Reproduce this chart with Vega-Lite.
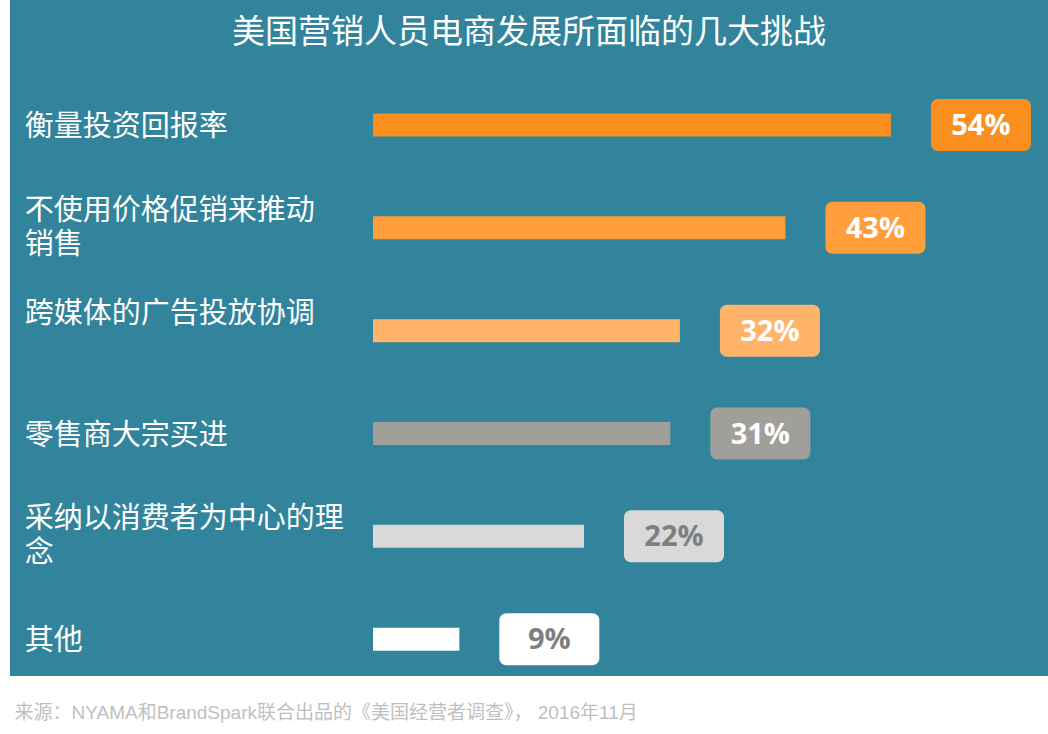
{
  "$schema": "https://vega.github.io/schema/vega-lite/v6.json",
  "width": 1038,
  "height": 676,
  "autosize": {"type": "none"},
  "padding": {"left": 10, "top": 0, "right": 0, "bottom": 58},
  "background": "white",
  "config": {"view": {"fill": "#31849B", "stroke": null}},
  "title": {
    "text": "美国营销人员电商发展所面临的几大挑战",
    "orient": "top",
    "anchor": "middle",
    "frame": "group",
    "offset": -50,
    "fontSize": 33,
    "fontWeight": "normal",
    "color": "white",
    "font": "Noto Sans CJK SC"
  },
  "data": {
    "values": [
      {"cat": "衡量投资回报率", "text": "衡量投资回报率", "value": 54, "label": "54%"},
      {"cat": "不使用价格促销来推动销售", "text": "不使用价格促销来推动\n销售", "value": 43, "label": "43%"},
      {"cat": "跨媒体的广告投放协调", "text": "跨媒体的广告投放协调\n", "value": 32, "label": "32%"},
      {"cat": "零售商大宗买进", "text": "零售商大宗买进", "value": 31, "label": "31%"},
      {"cat": "采纳以消费者为中心的理念", "text": "采纳以消费者为中心的理\n念", "value": 22, "label": "22%"},
      {"cat": "其他", "text": "其他", "value": 9, "label": "9%"}
    ]
  },
  "encoding": {
    "y": {
      "field": "cat",
      "type": "nominal",
      "sort": null,
      "axis": null,
      "scale": {"range": [73.6, 690.6], "paddingInner": 0, "paddingOuter": 0}
    }
  },
  "layer": [
    {
      "mark": {"type": "bar", "height": 23},
      "encoding": {
        "x": {
          "field": "value",
          "type": "quantitative",
          "scale": {"domain": [-37.85, 70.38], "nice": false, "zero": false},
          "axis": {
            "domain": false,
            "ticks": false,
            "labels": false,
            "grid": false,
            "title": "来源：NYAMA和BrandSpark联合出品的《美国经营者调查》， 2016年11月",
            "titleAnchor": "start",
            "titleAlign": "left",
            "titleBaseline": "middle",
            "titleX": 4,
            "titleY": 36,
            "titleFont": "Liberation Sans, Noto Sans CJK SC",
            "titleFontSize": 19,
            "titleFontWeight": "normal",
            "titleColor": "#BFBFBF"
          }
        },
        "color": {
          "field": "cat",
          "type": "nominal",
          "sort": null,
          "legend": null,
          "scale": {
            "domain": ["衡量投资回报率", "不使用价格促销来推动销售", "跨媒体的广告投放协调", "零售商大宗买进", "采纳以消费者为中心的理念", "其他"],
            "range": ["#FA8F1E", "#FF9E3A", "#FFB46A", "#A09F9A", "#D9D9D9", "#FFFFFF"]
          }
        }
      }
    },
    {
      "mark": {"type": "bar", "height": 52, "cornerRadius": 7, "xOffset": 40, "x2Offset": 140},
      "encoding": {
        "x": {"field": "value", "type": "quantitative"},
        "x2": {"field": "value"},
        "color": {"field": "cat", "type": "nominal", "sort": null, "legend": null}
      }
    },
    {
      "mark": {"type": "text", "dx": 90, "dy": 1, "align": "center", "baseline": "middle", "fontSize": 29, "fontWeight": "bold", "font": "Open Sans"},
      "encoding": {
        "x": {"field": "value", "type": "quantitative"},
        "text": {"field": "label", "type": "nominal"},
        "color": {"condition": {"test": "datum.value < 25", "value": "#7F7F7F"}, "value": "white"}
      }
    },
    {
      "transform": [{"filter": "indexof(datum.text, '\\n') < 0"}],
      "mark": {"type": "text", "align": "left", "baseline": "middle", "dy": 2, "fontSize": 29, "font": "Noto Sans CJK SC", "color": "white"},
      "encoding": {
        "x": {"datum": -36.3, "type": "quantitative"},
        "text": {"field": "text", "type": "nominal"}
      }
    },
    {
      "transform": [{"filter": "indexof(datum.text, '\\n') >= 0"}],
      "mark": {"type": "text", "align": "left", "baseline": "middle", "dy": -17, "fontSize": 29, "font": "Noto Sans CJK SC", "color": "white", "lineBreak": "\n", "lineHeight": 34},
      "encoding": {
        "x": {"datum": -36.3, "type": "quantitative"},
        "text": {"field": "text", "type": "nominal"}
      }
    }
  ]
}
